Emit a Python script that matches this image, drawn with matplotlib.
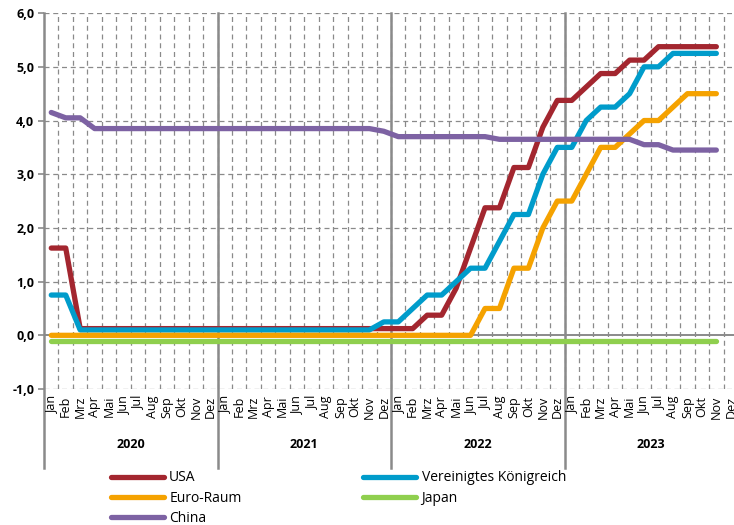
import numpy as np
import matplotlib
matplotlib.use("Agg")
import matplotlib.pyplot as plt
from matplotlib.lines import Line2D

plt.rcParams['font.family'] = ['Open Sans', 'DejaVu Sans']

months = ["Jan", "Feb", "Mrz", "Apr", "Mai", "Jun", "Jul", "Aug", "Sep", "Okt", "Nov", "Dez"]
years = ["2020", "2021", "2022", "2023"]

# Leitzinsen in %, Jan 2020 bis Nov 2023
usa = [1.625, 1.625] + [0.125] * 24 + [0.375, 0.375, 0.875, 1.625, 2.375, 2.375, 3.125, 3.125, 3.875, 4.375,
       4.375, 4.625, 4.875, 4.875, 5.125, 5.125, 5.375, 5.375, 5.375, 5.375, 5.375]
uk = [0.75, 0.75] + [0.1] * 21 + [0.25, 0.25, 0.5, 0.75, 0.75, 1.0, 1.25, 1.25, 1.75, 2.25, 2.25, 3.0, 3.5,
      3.5, 4.0, 4.25, 4.25, 4.5, 5.0, 5.0, 5.25, 5.25, 5.25, 5.25]
euro = [0.0] * 30 + [0.5, 0.5, 1.25, 1.25, 2.0, 2.5,
        2.5, 3.0, 3.5, 3.5, 3.75, 4.0, 4.0, 4.25, 4.5, 4.5, 4.5]
japan = [-0.1] * 47
china = [4.15, 4.05, 4.05] + [3.85] * 20 + [3.80] + [3.70] * 7 + [3.65] * 10 + [3.55, 3.55] + [3.45] * 4

series = [
    ("USA", usa, "#A3262F"),
    ("Vereinigtes Königreich", uk, "#009CCB"),
    ("Euro-Raum", euro, "#F5A200"),
    ("Japan", japan, "#8FCF4E"),
    ("China", china, "#7D62A3"),
]

grey = "#8a8a8a"
fig = plt.figure(figsize=(7.34, 5.25), dpi=100)
ax = fig.add_axes([0.06, 0.259, 0.9455, 0.716])

n = len(months) * len(years)
ax.set_xlim(-0.5, n - 0.5)
ax.set_ylim(-1, 6)

# grid
for v in np.arange(0.5, n - 0.5, 1):
    ax.axvline(v, color=grey, lw=0.9, ls=(0, (4, 3)), zorder=1)
for v in [-1, 1, 2, 3, 4, 5, 6]:
    ax.axhline(v, color=grey, lw=0.9, ls=(0, (4, 3)), zorder=1)
ax.axhline(0, color=grey, lw=1.4, zorder=1)

for name, vals, col in series:
    x = np.arange(len(vals))
    ax.plot(x, vals, color=col, lw=3.8, solid_capstyle="round", solid_joinstyle="round", zorder=3)

for s in ["top", "right", "bottom", "left"]:
    ax.spines[s].set_visible(False)

ax.set_yticks(range(-1, 7))
ax.set_yticklabels([f"{v},0" for v in range(-1, 7)], fontsize=9, fontweight="bold")
ax.tick_params(axis="y", length=4, color=grey, width=1.2, pad=3)

ax.set_xticks(range(n))
ax.set_xticklabels(months * len(years), rotation=90, fontsize=9, va="top")
ax.tick_params(axis="x", length=0, pad=5)

# year separators and labels
trans = ax.get_xaxis_transform()
for k in range(len(years) + 1):
    xv = k * 12 - 0.5
    ax.plot([xv, xv], [1.0, -0.21], transform=trans, color=grey, lw=1.8, clip_on=False, zorder=0)
for k, yr in enumerate(years):
    ax.text(k * 12 + 5.5, -0.147, yr, transform=trans, ha="center", va="center",
            fontsize=9, fontweight="bold")

# legend
order = [0, 2, 4, 1, 3]
handles = [Line2D([], [], color=series[i][2], lw=3.8, solid_capstyle="round") for i in order]
labels = [series[i][0] for i in order]
fig.legend(handles, labels, loc="upper left", bbox_to_anchor=(0.151, 0.104), ncol=2,
           frameon=False, fontsize=10, handlelength=3.8, handletextpad=0.4,
           columnspacing=8.76, labelspacing=0.37, borderaxespad=0, borderpad=0)

fig.savefig("out.png", dpi=100)
